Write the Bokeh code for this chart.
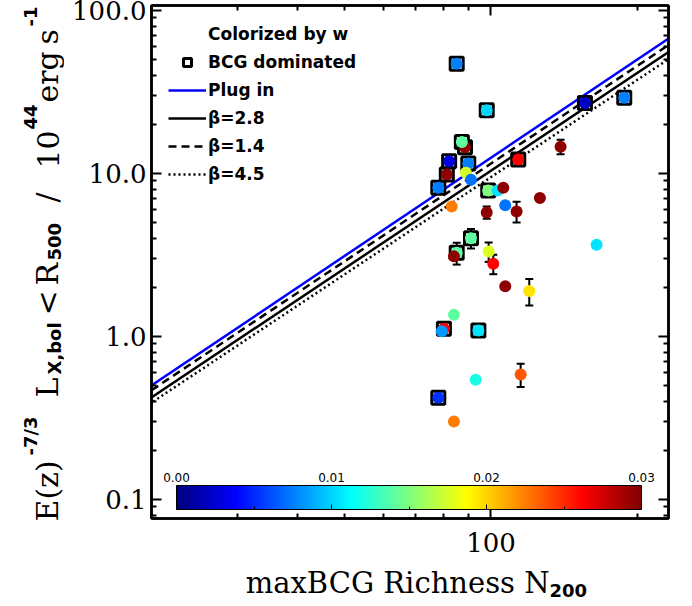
import numpy as np
from bokeh.plotting import figure
from bokeh.layouts import row, column
from bokeh.core.properties import value
from bokeh.models import (ColumnDataSource, FixedTicker, LogAxis, PrintfTickFormatter,
                          Legend, LegendItem, Label, ColorBar, LinearColorMapper,
                          Whisker, TeeHead, Range1d)
from bokeh.transform import linear_cmap
from bokeh.embed import file_html
from bokeh.resources import INLINE

# ---------------- data ----------------
richness = [98.0, 156.1, 88.4, 87.1, 113.8, 82.0, 89.8, 81.1, 88.8, 90.95,
            77.9, 98.7, 103.2, 106.0, 83.0, 98.0, 107.0, 112.9, 126.1, 139.1,
            165.0, 90.95, 85.0, 83.9, 98.9, 101.1, 107.0, 119.9, 83.9, 80.0,
            79.2, 94.2, 93.0, 115.1, 77.9, 83.9, 85.0, 188.1]
lx = [24.4, 27.1, 14.5, 15.6, 12.2, 11.9, 11.5, 9.86, 10.1, 9.15,
      8.17, 7.87, 7.87, 8.17, 6.27, 5.77, 6.39, 5.85, 7.06, 14.6,
      3.65, 4.01, 3.26, 3.10, 3.32, 2.79, 2.03, 1.90, 1.36, 1.115,
      1.078, 1.088, 0.543, 0.585, 0.421, 0.301, 47.1, 29.1]
w_val = [0.0100, 0.0020, 0.0295, 0.0140, 0.0262, 0.0030, 0.0075, 0.0295, 0.0175, 0.0072,
         0.0075, 0.0150, 0.0105, 0.0295, 0.0225, 0.0295, 0.0072, 0.0295, 0.0295, 0.0295,
         0.0105, 0.0140, 0.0140, 0.0295, 0.0178, 0.0262, 0.0295, 0.0195, 0.0140, 0.0262,
         0.0083, 0.0105, 0.0120, 0.0236, 0.0052, 0.0225, 0.0075, 0.0075]
bcg_dominated = [1, 1, 1, 1, 1, 1, 1, 1, 0, 0,
                 1, 1, 0, 0, 0, 0, 0, 0, 0, 0,
                 0, 1, 1, 0, 0, 0, 0, 0, 0, 1,
                 0, 1, 0, 0, 1, 0, 1, 1]
lx_err = [0, 1.2, 0, 0, 0.7, 0, 0, 0, 0, 0,
          0.47, 0, 0, 0, 0, 0.5, 0, 0.85, 0, 1.5,
          0, 0.55, 0.5, 0, 0.45, 0.38, 0, 0.35, 0, 0,
          0, 0, 0, 0.095, 0, 0, 0, 0]

# scaling relations: L = amp * (N/100)^slope
line_names = ["Plug in", "\u03b2=2.8", "\u03b2=1.4", "\u03b2=4.5"]
line_amp100 = [12.5, 10.4, 11.5, 9.5]
line_slope = [2.0, 1.99, 1.99, 1.98]
line_colors = ["#0000ff", "black", "black", "black"]
line_dashes = ["solid", "solid", "8 5", "2 3"]

x_major = [100]
x_minor = [20, 30, 40, 50, 60, 70, 80, 90, 200]
y_major = [0.1, 1, 10, 100]
y_minor = [0.08, 0.09, 0.2, 0.3, 0.4, 0.5, 0.6, 0.7, 0.8, 0.9,
           2, 3, 4, 5, 6, 7, 8, 9, 20, 30, 40, 50, 60, 70, 80, 90]
cb_ticks = [0.00, 0.01, 0.02, 0.03]
cb_minor = [0.005, 0.015, 0.025]
w_low, w_high = 0.0, 0.03

x_lo, x_hi = 20.0, 232.0
y_lo, y_hi = 0.0764, 107.3

# axis-title pieces: (text, start position along the axis in page px, kind)
ylab_pieces = [("E(z)", 521, "main"), ("-7/3", 455, "sup"), ("L", 397, "main"),
               ("X,bol", 374, "sub"), ("<", 315, "main"), ("R", 285, "main"),
               ("500", 260, "sub"), ("/", 202, "main"), ("10", 168, "main"),
               ("44", 129, "sup"), ("erg", 102, "main"), ("s", 44, "main"),
               ("-1", 26, "sup")]
xlab_main, xlab_sub = "maxBCG Richness N", "200"


def jet(n=256):
    out = []
    for i in range(n):
        t = i / (n - 1)
        r = min(max(1.5 - abs(4 * t - 3), 0), 1)
        g = min(max(1.5 - abs(4 * t - 2), 0), 1)
        b = min(max(1.5 - abs(4 * t - 1), 0), 1)
        out.append("#%02x%02x%02x" % (int(r * 255), int(g * 255), int(b * 255)))
    return out


palette = jet()

# ---------------- layout geometry (page pixels) ----------------
LEFT_W = 64          # strip holding the rotated y title
MAIN_W = 621
MAIN_H = 564
BOT_H = 40
FL, FT, FR, FB = 151, 5, 668, 518   # frame edges on the page

p = figure(width=MAIN_W, height=MAIN_H, x_axis_type="log", y_axis_type="log",
           x_range=Range1d(x_lo, x_hi), y_range=Range1d(y_lo, y_hi),
           output_backend="svg", toolbar_location=None, frame_align=False,
           min_border_left=FL - LEFT_W, min_border_right=LEFT_W + MAIN_W - FR,
           min_border_top=FT, min_border_bottom=MAIN_H - FB)
p.grid.visible = False
p.outline_line_color = "black"
p.outline_line_width = 2.5
p.background_fill_color = "white"
p.border_fill_color = "white"

serif = "DejaVu Serif"


def style_axis(ax, ticks, minor, show, fmt=None):
    ax.ticker = FixedTicker(ticks=ticks, minor_ticks=minor)
    ax.axis_line_width = 2.5
    ax.axis_line_color = "black"
    ax.major_tick_in = 10
    ax.major_tick_out = 0
    ax.minor_tick_in = 5
    ax.minor_tick_out = 0
    ax.major_tick_line_width = 2
    ax.minor_tick_line_width = 2
    ax.major_tick_line_color = "black"
    ax.minor_tick_line_color = "black"
    if show:
        ax.formatter = PrintfTickFormatter(format=fmt)
        ax.major_label_text_font = serif
        ax.major_label_text_font_size = "26px"
        ax.major_label_text_color = "black"
    else:
        ax.major_label_text_font_size = "1px"
        ax.major_label_text_alpha = 0
        ax.major_label_standoff = 0


style_axis(p.xaxis[0], x_major, x_minor, True, "%d")
p.xaxis[0].major_label_standoff = 14
style_axis(p.yaxis[0], y_major, y_minor, True, "%.1f")
p.yaxis[0].major_label_standoff = 5

top_ax = LogAxis()
right_ax = LogAxis()
style_axis(top_ax, x_major, x_minor, False)
style_axis(right_ax, y_major, y_minor, False)
p.add_layout(top_ax, "above")
p.add_layout(right_ax, "right")

# ---------------- model lines ----------------
xs_line = np.array([x_lo * 0.95, x_hi * 1.05])
line_renderers = []
for name, amp, s, c, d in zip(line_names, line_amp100, line_slope, line_colors, line_dashes):
    ys_line = amp * (xs_line / 100.0) ** s
    r = p.line(xs_line, ys_line, line_color=c, line_width=2.5, line_dash=d)
    line_renderers.append(r)

# ---------------- error bars ----------------
ex, elo, ehi = [], [], []
for n_, l_, e_ in zip(richness, lx, lx_err):
    if e_ > 0:
        ex.append(n_)
        elo.append(l_ - e_)
        ehi.append(l_ + e_)
err_src = ColumnDataSource(dict(x=ex, lo=elo, hi=ehi))
wh = Whisker(source=err_src, base="x", lower="lo", upper="hi", dimension="height",
             line_width=2, line_color="black",
             upper_head=TeeHead(size=8, line_width=2, line_color="black"),
             lower_head=TeeHead(size=8, line_width=2, line_color="black"))
p.add_layout(wh)

# ---------------- BCG squares ----------------
sq_src = ColumnDataSource(dict(
    x=[n_ for n_, b_ in zip(richness, bcg_dominated) if b_],
    y=[l_ for l_, b_ in zip(lx, bcg_dominated) if b_]))
sq = p.scatter("x", "y", source=sq_src, marker="square", size=13,
               fill_color=None, line_color="black", line_width=3)

# ---------------- colored points ----------------
src = ColumnDataSource(dict(N=richness, L=lx, w=w_val))
p.scatter("N", "L", source=src, marker="circle", size=12,
          fill_color=linear_cmap("w", palette, w_low, w_high), line_color=None)

dummy = p.scatter(x=[], y=[], marker="circle", size=12, fill_color="#00e400",
                  line_color=None)

legend = Legend(items=[
    LegendItem(label="Colorized by w", renderers=[dummy]),
    LegendItem(label="BCG dominated", renderers=[sq]),
] + [LegendItem(label=nm, renderers=[r]) for nm, r in zip(line_names, line_renderers)],
    location=(17, 334), border_line_color=None, background_fill_alpha=0,
    padding=0, margin=0, spacing=8, label_height=20, glyph_height=20,
    glyph_width=38, label_standoff=2, label_text_font="DejaVu Sans",
    label_text_font_style="bold", label_text_font_size="17px",
    label_text_color="black")
p.add_layout(legend)

# ---------------- color bar ----------------
cb_left, cb_bottom, cb_width, cb_height = 25, 9, 465, 24
mapper = LinearColorMapper(palette=palette, low=w_low, high=w_high)
cb = ColorBar(color_mapper=mapper, orientation="horizontal",
              location=(cb_left, cb_bottom), width=cb_width, height=cb_height,
              padding=0, ticker=FixedTicker(ticks=cb_ticks, minor_ticks=cb_minor),
              major_label_text_font_size="1px", major_label_text_alpha=0,
              label_standoff=0,
              major_tick_in=5, major_tick_line_color="black", major_tick_line_width=1,
              minor_tick_in=3, minor_tick_line_color="black",
              bar_line_color="black", bar_line_width=1,
              background_fill_alpha=0, border_line_color=None)
p.add_layout(cb)
for t in cb_ticks:
    p.add_layout(Label(x=cb_left + (t - w_low) / (w_high - w_low) * cb_width,
                       y=cb_bottom + cb_height + 8, x_units="screen", y_units="screen",
                       text="%.2f" % t, text_align="center", text_baseline="alphabetic",
                       text_font="DejaVu Sans", text_font_size="12px",
                       text_color="black"))


# ---------------- strips carrying the axis titles ----------------
def strip(w, h):
    f = figure(width=w, height=h, x_range=Range1d(0, w), y_range=Range1d(0, h),
               output_backend="svg", toolbar_location=None, title=None,
               x_axis_location=None, y_axis_location=None, frame_align=False,
               min_border_left=0, min_border_right=0, min_border_top=0,
               min_border_bottom=0)
    f.grid.visible = False
    f.outline_line_color = None
    f.background_fill_color = "white"
    f.border_fill_color = "white"
    return f


def put(f, x, y, txt, size, font, style, angle, align, baseline="alphabetic"):
    f.text(x=[x], y=[y], text=[txt], angle=angle, text_align=value(align),
           text_baseline=value(baseline), text_font=value(font),
           text_font_size=value(size), text_font_style=value(style),
           text_color="black")


left = strip(LEFT_W, MAIN_H)
base_x = {"main": 47, "sup": 30, "sub": 54}
for txt, py, kind in ylab_pieces:
    if kind == "main":
        put(left, base_x[kind], MAIN_H - py, txt, "30px", serif, "normal", np.pi / 2, "left")
    else:
        put(left, base_x[kind], MAIN_H - py, txt, "18px", "DejaVu Sans", "bold",
            np.pi / 2, "left")

PAGE_H = MAIN_H + BOT_H
bottom = strip(LEFT_W + MAIN_W, BOT_H)
put(bottom, 549, PAGE_H - 582, xlab_main, "29px", serif, "normal", 0.0, "right", "middle")
put(bottom, 549, PAGE_H - 590, xlab_sub, "18px", "DejaVu Sans", "bold", 0.0, "left", "middle")

layout = column(row(left, p), bottom)
open("out.html", "w").write(file_html(layout, INLINE))
